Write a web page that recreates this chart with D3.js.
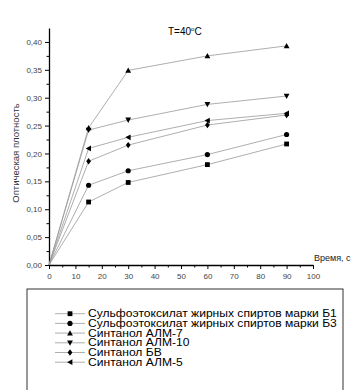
<!DOCTYPE html>
<html>
<head>
<meta charset="utf-8">
<script src="https://cdn.jsdelivr.net/npm/d3@7"></script>
<style>
  body { margin: 0; background: #fff; }
  text { font-family: "Liberation Sans", Arial, sans-serif; }
</style>
</head>
<body>
<script>
// Data
var times = [0, 15, 30, 60, 90];
var seriesNames = [
  "Сульфоэтоксилат жирных спиртов марки Б1",
  "Сульфоэтоксилат жирных спиртов марки Б3",
  "Синтанол АЛМ-7",
  "Синтанол АЛМ-10",
  "Синтанол БВ",
  "Синтанол АЛМ-5"
];
var b1 = [0, 0.113, 0.148, 0.180, 0.217];
var b3 = [0, 0.143, 0.169, 0.198, 0.234];
var alm7 = [0, 0.246, 0.349, 0.375, 0.393];
var alm10 = [0, 0.242, 0.260, 0.288, 0.303];
var bv = [0, 0.186, 0.215, 0.251, 0.269];
var alm5 = [0, 0.209, 0.229, 0.259, 0.272];
var seriesValues = [b1, b3, alm7, alm10, bv, alm5];
var xTicks = [0, 10, 20, 30, 40, 50, 60, 70, 80, 90, 100];
var yTicks = [0, 0.05, 0.10, 0.15, 0.20, 0.25, 0.30, 0.35, 0.40];

var width = 353;
var height = 390;

var svg = d3.select("body")
  .append("svg")
  .attr("width", width)
  .attr("height", height);

// Scales
var x = d3.scaleLinear().domain([0, 100]).range([49, 313]);
var y = d3.scaleLinear().domain([0, 0.425]).range([265, 28]);

var fmt = function (d) { return d3.format(".2f")(d).replace(".", ","); };

// Minor ticks
svg.append("g")
  .attr("transform", "translate(0,265)")
  .call(d3.axisBottom(x).tickValues(d3.range(5, 100, 10)).tickSize(2.5).tickFormat(""))
  .call(function (g) { g.select(".domain").remove(); });
svg.append("g")
  .attr("transform", "translate(49,0)")
  .call(d3.axisLeft(y).tickValues(d3.range(0.025, 0.425, 0.05)).tickSize(2.5).tickFormat(""))
  .call(function (g) { g.select(".domain").remove(); });

// Main axes
svg.append("g")
  .attr("transform", "translate(0,265)")
  .call(d3.axisBottom(x).tickValues(xTicks).tickSize(4).tickSizeOuter(0).tickPadding(4));
svg.append("g")
  .attr("transform", "translate(49,0)")
  .call(d3.axisLeft(y).tickValues(yTicks).tickSize(4).tickSizeOuter(0).tickPadding(3).tickFormat(fmt));

svg.selectAll(".domain").attr("stroke-width", 1.3);
svg.selectAll(".tick line").attr("stroke-width", 1);
svg.selectAll(".tick text")
  .attr("font-family", "Liberation Sans, Arial, sans-serif")
  .attr("font-size", 8)
  .attr("fill", "#444");

// Lines
var line = d3.line()
  .x(function (d, i) { return x(times[i]); })
  .y(function (d) { return y(d); });

seriesValues.forEach(function (vals) {
  svg.append("path")
    .attr("d", line(vals))
    .attr("fill", "none")
    .attr("stroke", "#999")
    .attr("stroke-width", 0.8);
});

// Markers
function marker(g, type, cx, cy) {
  var s = 2.4;
  if (type === 0) {
    g.append("rect").attr("x", cx - s).attr("y", cy - s).attr("width", 2 * s).attr("height", 2 * s).attr("fill", "#000");
  } else if (type === 1) {
    g.append("circle").attr("cx", cx).attr("cy", cy).attr("r", s + 0.2).attr("fill", "#000");
  } else if (type === 2) {
    g.append("path").attr("d", "M" + cx + "," + (cy - s - 0.5) + "L" + (cx + s + 0.5) + "," + (cy + s) + "L" + (cx - s - 0.5) + "," + (cy + s) + "Z").attr("fill", "#000");
  } else if (type === 3) {
    g.append("path").attr("d", "M" + cx + "," + (cy + s + 0.5) + "L" + (cx + s + 0.5) + "," + (cy - s) + "L" + (cx - s - 0.5) + "," + (cy - s) + "Z").attr("fill", "#000");
  } else if (type === 4) {
    g.append("path").attr("d", "M" + cx + "," + (cy - s - 0.8) + "L" + (cx + s) + "," + cy + "L" + cx + "," + (cy + s + 0.8) + "L" + (cx - s) + "," + cy + "Z").attr("fill", "#000");
  } else {
    g.append("path").attr("d", "M" + (cx - s - 0.5) + "," + cy + "L" + (cx + s) + "," + (cy - s - 0.5) + "L" + (cx + s) + "," + (cy + s + 0.5) + "Z").attr("fill", "#000");
  }
}

var markers = svg.append("g");
seriesValues.forEach(function (vals, k) {
  vals.forEach(function (v, i) {
    if (i === 0) return;
    marker(markers, k, x(times[i]), y(v));
  });
});

// Title
var title = svg.append("text")
  .attr("x", 168)
  .attr("y", 35)
  .attr("font-size", 10)
  .attr("fill", "#000");
title.append("tspan").text("T=40");
title.append("tspan").attr("font-size", 6).attr("dy", -4).text("o");
title.append("tspan").attr("dy", 4).text("C");

// Axis labels
svg.append("text")
  .attr("transform", "translate(19,153) rotate(-90)")
  .attr("text-anchor", "middle")
  .attr("font-size", 9.5)
  .attr("fill", "#333")
  .text("Оптическая плотность");

svg.append("text")
  .attr("x", 314)
  .attr("y", 261)
  .attr("font-size", 9)
  .attr("fill", "#222")
  .text("Время, с");

// Legend
svg.append("rect")
  .attr("x", 27)
  .attr("y", 289)
  .attr("width", 316)
  .attr("height", 110)
  .attr("fill", "none")
  .attr("stroke", "#333")
  .attr("stroke-width", 1);

var legend = svg.append("g");
seriesNames.forEach(function (name, k) {
  var ly = 313.7 + k * 9.7;
  legend.append("line")
    .attr("x1", 55).attr("x2", 85)
    .attr("y1", ly).attr("y2", ly)
    .attr("stroke", "#999")
    .attr("stroke-width", 0.8);
  marker(legend, k, 70, ly);
  legend.append("text")
    .attr("transform", "translate(88," + (ly + 3.6) + ") scale(1.21,1)")
    .attr("font-size", 10)
    .attr("fill", "#000")
    .text(name);
});
</script>
</body>
</html>
